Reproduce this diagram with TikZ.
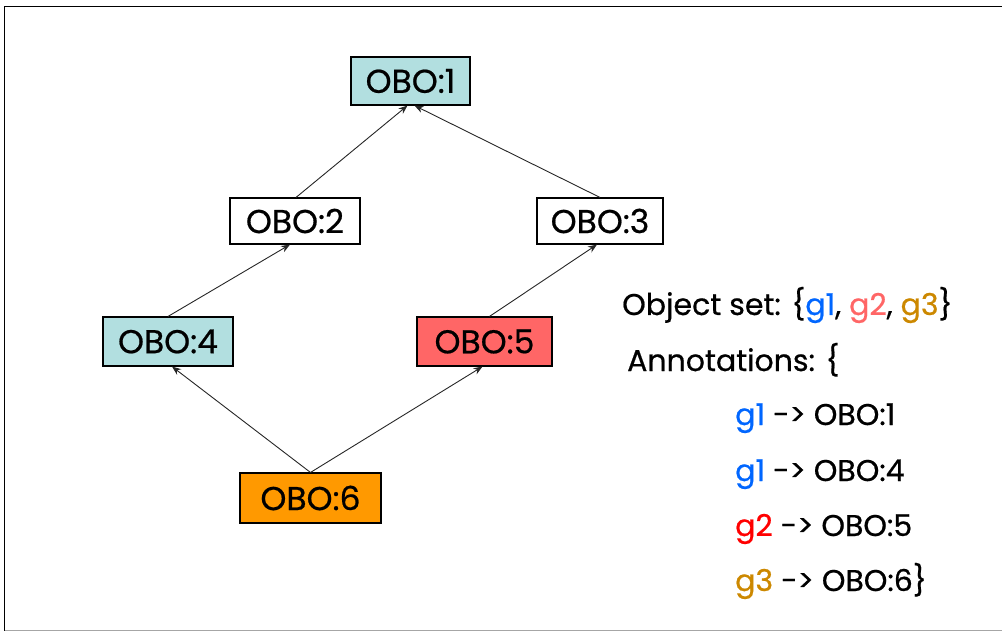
\documentclass[tikz,border=0pt]{standalone}
\usepackage{fontspec}
\setmainfont{Poppins}
\newfontfamily\cfont[FakeBold=0.6]{Poppins}
\usetikzlibrary{arrows.meta}
\definecolor{lblue}{RGB}{178,223,224}
\definecolor{lred}{RGB}{255,102,102}
\definecolor{orng}{RGB}{255,153,0}
\definecolor{gblue}{RGB}{0,102,255}
\definecolor{gpink}{RGB}{255,102,102}
\definecolor{gred}{RGB}{255,0,0}
\definecolor{gorng}{RGB}{204,136,0}
\tikzset{
  term/.style={draw=black, line width=1.1pt, inner sep=0pt, font=\cfont\fontsize{33}{36}\selectfont},
  isa/.style={line width=0.9pt, draw=black!85, -{Stealth[length=9pt,width=7pt]}},
  info/.style={anchor=base west, inner sep=0pt, font=\cfont\fontsize{30}{34}\selectfont},
}
\begin{document}
\begin{tikzpicture}[x=1pt,y=-1pt]
\useasboundingbox (0,0) rectangle (1002,631);
% frame
\draw[line width=1.5pt] (4.5,631) -- (4.5,6.5) -- (1002,6.5);
\draw[line width=1pt, black!35] (4.5,630) -- (1002,630);
% nodes
\node[term, fill=lblue, minimum width=119pt, minimum height=48pt] (n1) at (410.5,81) {OBO:1};
\node[term, fill=white, minimum width=130pt, minimum height=46pt] (n2) at (295,221) {OBO:2};
\node[term, fill=white, minimum width=126pt, minimum height=46pt] (n3) at (600,221) {OBO:3};
\node[term, fill=lblue, minimum width=130pt, minimum height=49pt] (n4) at (168,341.5) {OBO:4};
\node[term, fill=lred, minimum width=135pt, minimum height=49pt] (n5) at (484.5,341.5) {OBO:5};
\node[term, fill=orng, minimum width=141pt, minimum height=50pt] (n6) at (310.5,498) {OBO:6};
% edges
\draw[isa] ([xshift=1pt]n2.north) -- ([xshift=-3pt]n1.south);
\draw[isa] (n3.north) -- ([xshift=4pt]n1.south);
\draw[isa] (n4.north) -- ([xshift=-5pt]n2.north |- n2.south);
\draw[isa] ([xshift=5pt]n5.north) -- ([xshift=-3pt]n3.south);
\draw[isa] (n6.north) -- ([xshift=4pt]n4.south);
\draw[isa] (n6.north) -- ([xshift=-2pt]n5.south);
% text
\node[info] (os) at (622,315) {Object set: \{\textcolor{gblue}{g1}, \textcolor{gpink}{g2}, \textcolor{gorng}{g3}\}};
\node[info] (an) at (627,371) {Annotations: \{};
\node[info] (a1) at (735,425) {\textcolor{gblue}{g1} -> OBO:1};
\node[info] (a2) at (735,481) {\textcolor{gblue}{g1} -> OBO:4};
\node[info] (a3) at (735,536) {\textcolor{gred}{g2} -> OBO:5};
\node[info] (a4) at (735,591) {\textcolor{gorng}{g3} -> OBO:6\}};
\end{tikzpicture}
\end{document}
